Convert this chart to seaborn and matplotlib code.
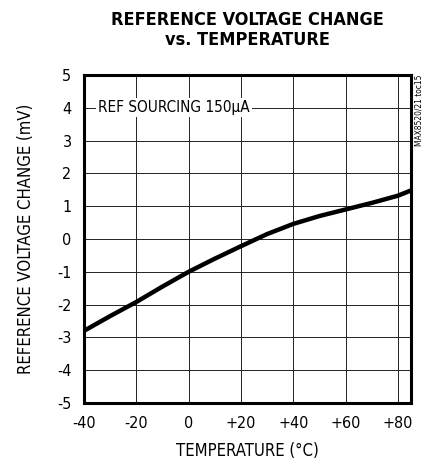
import pandas as pd
import matplotlib.pyplot as plt
import seaborn as sns

# Data
temperature = [-40, -30, -20, -10, 0, 10, 20, 30, 40, 50, 60, 70, 80, 85]
voltage_change = [-2.8, -2.35, -1.92, -1.45, -1.0, -0.6, -0.22, 0.15, 0.46, 0.7, 0.9, 1.1, 1.32, 1.48]
x_ticks = [-40, -20, 0, 20, 40, 60, 80]
x_labels = ["-40", "-20", "0", "+20", "+40", "+60", "+80"]
y_ticks = [-5, -4, -3, -2, -1, 0, 1, 2, 3, 4, 5]

data = pd.DataFrame({"temp": temperature, "dv": voltage_change})

sns.set_style("white")
plt.rcParams['font.family'] = ['DejaVu Sans']
plt.rcParams['font.stretch'] = 'condensed'
plt.rcParams['axes.unicode_minus'] = False
plt.rcParams['text.color'] = 'black'
plt.rcParams['axes.labelcolor'] = 'black'
plt.rcParams['xtick.color'] = 'black'
plt.rcParams['ytick.color'] = 'black'

fig = plt.figure(figsize=(4.23, 4.62), dpi=100)
ax = fig.add_axes([0.1986, 0.1277, 0.773, 0.71])

sns.lineplot(data=data, x="temp", y="dv", color="black", linewidth=3.2, ax=ax)

ax.set_xlim(-40, 85)
ax.set_ylim(-5, 5)
ax.set_xticks(x_ticks)
ax.set_xticklabels(x_labels)
ax.set_yticks(y_ticks)
ax.grid(True, color="#222222", linewidth=0.7)
ax.tick_params(length=0, labelsize=11.5, pad=9)
for s in ax.spines.values():
    s.set_linewidth(2.2)
    s.set_color("black")

ax.set_xlabel("TEMPERATURE (°C)", fontsize=12, labelpad=8)
ax.set_ylabel("REFERENCE VOLTAGE CHANGE (mV)", fontsize=12, labelpad=16)

ax.text(-34.5, 4, "REF SOURCING 150µA", fontsize=11, va="center", ha="left",
        bbox=dict(facecolor="white", edgecolor="none", pad=1.5))
ax.text(1.012, 1.0, "MAX8520/21 toc15", transform=ax.transAxes, rotation=90,
        fontsize=6, va="top", ha="left")

fig.text(0.585, 0.935, "REFERENCE VOLTAGE CHANGE\nvs. TEMPERATURE", ha="center",
         va="center", fontsize=13, fontweight="heavy", linespacing=1.1)

fig.savefig("out.png", dpi=100)
